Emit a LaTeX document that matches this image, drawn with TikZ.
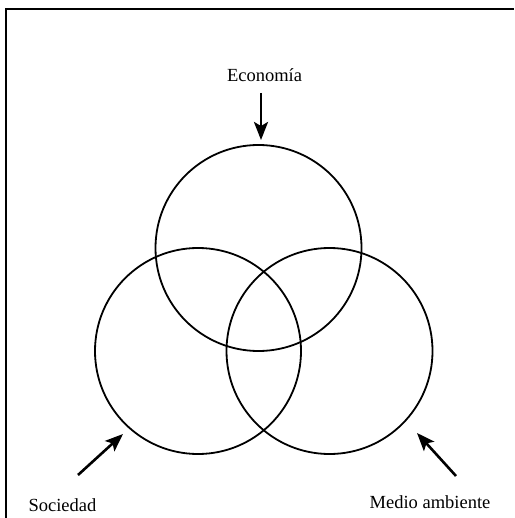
\documentclass[tikz,border=0pt]{standalone}
\usepackage{fontspec}
\setmainfont{Liberation Serif}
\usetikzlibrary{arrows.meta}

\begin{document}
\begin{tikzpicture}[x=1pt,y=-1pt,
    ring/.style={draw,circle,line width=1.8pt,minimum size=206pt,inner sep=0pt},
    pointer/.style={-{Stealth[length=18pt,width=14pt,inset=4pt]},line width=2.6pt},
    tag/.style={anchor=base,inner sep=0pt,font=\fontsize{18.5}{20}\selectfont}]
\useasboundingbox (0,0) rectangle (514,518);
% frame
\draw[line width=2.6pt] (6,518)--(6,9)--(514,9);
% the three circles
\node[ring] (eco) at (258.5,248) {};
\node[ring] (soc) at (198,351) {};
\node[ring] (med) at (329.5,351) {};
% texts
\node[tag] (ecotext) at (264.5,82) {Economía};
\node[tag] (soctext) at (62.5,511) {Sociedad};
\node[tag] (medtext) at (430,508) {Medio ambiente};
% arrows
\coordinate (ecotail) at (261,93);
\coordinate (ecotip) at (261,140);
\coordinate (soctail) at (78,475);
\coordinate (soctip) at (123,434);
\coordinate (medtail) at (456,476);
\coordinate (medtip) at (417,433);
\foreach \a in {eco,soc,med}
  \draw[pointer] (\a tail)--(\a tip);
\end{tikzpicture}
\end{document}
